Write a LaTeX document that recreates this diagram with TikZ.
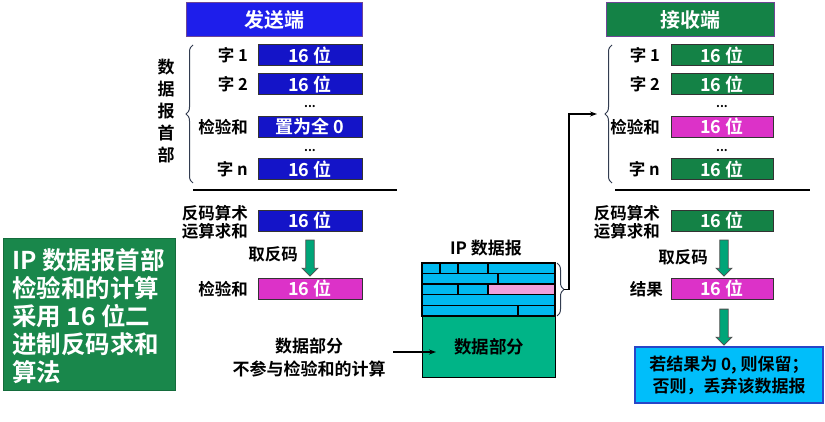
\documentclass[tikz,border=0pt]{standalone}
\usepackage{fontspec}
\setmainfont{Noto Sans CJK SC}[BoldFont={Noto Sans CJK SC Bold}]
\usetikzlibrary{shapes.arrows,decorations.pathreplacing,arrows.meta}
\definecolor{sendblue}{RGB}{20,20,200}
\definecolor{headblue}{RGB}{30,30,235}
\definecolor{headborder}{RGB}{110,70,150}
\definecolor{recvgreen}{RGB}{20,130,70}
\definecolor{pinkbox}{RGB}{220,50,200}
\definecolor{arrowgreen}{RGB}{0,165,120}
\definecolor{leftgreen}{RGB}{25,135,75}
\definecolor{dgcyan}{RGB}{0,185,240}
\definecolor{dgpink}{RGB}{240,160,220}
\definecolor{datagreen}{RGB}{0,180,135}
\definecolor{rescyan}{RGB}{0,190,250}
\definecolor{resborder}{RGB}{40,70,200}
\definecolor{bracecol}{RGB}{50,60,80}
\tikzset{
  x=1pt, y=-1pt,
  every node/.style={font=\bfseries},
  hdr/.style={draw=headborder, line width=1pt, minimum width=176pt, minimum height=34pt, inner sep=0pt, text=white, font=\fontsize{20}{22}\selectfont\bfseries},
  word/.style={draw=black!80, line width=1pt, minimum width=104pt, minimum height=21pt, inner sep=0pt, text=white, font=\fontsize{18}{20}\selectfont\bfseries},
  lbl/.style={anchor=east, inner sep=0pt, font=\fontsize{16.5}{18}\selectfont\bfseries},
  dots/.style={inner sep=0pt, font=\fontsize{12}{12}\selectfont\bfseries},
  blockarrow/.style={single arrow, shape border rotate=270, draw=black!70, line width=0.8pt, fill=arrowgreen, minimum height=36pt, minimum width=15pt, inner sep=3.8pt, single arrow head extend=3.6pt},
  hbrace/.style={decorate, decoration={brace, amplitude=7pt}, draw=bracecol, line width=1pt},
  rule/.style={line width=1.6pt, black},
  cell/.style={draw=black, line width=1.4pt},
}
\begin{document}
\begin{tikzpicture}
\useasboundingbox (0,0) rectangle (825,422);
% ---------- sender ----------
\node[hdr, fill=headblue] (shdr) at (274,20) {发送端};
\node[word, fill=sendblue] (sw1) at (310,55.5) {16 位};
\node[word, fill=sendblue] (sw2) at (310,84.5) {16 位};
\node[word, fill=sendblue] (swc) at (310,127) {置为全 0};
\node[word, fill=sendblue] (swn) at (310,169.5) {16 位};
\node[lbl] (sl1) at (248,55.5) {字 1};
\node[lbl] (sl2) at (248,84.5) {字 2};
\node[lbl] (slc) at (248,127) {检验和};
\node[lbl] (sln) at (248,169.5) {字 n};
\node[dots] (sd1) at (310,107) {...};
\node[dots] (sd2) at (310,151) {...};
\draw[hbrace] (193,183) -- (193,45);
\node[inner sep=0pt, align=center, font=\fontsize{17}{22}\selectfont\bfseries] (svert) at (166,111) {数\\据\\报\\首\\部};
\coordinate (sr1) at (193,190);
\coordinate (sr2) at (397,190);
\draw[rule] (sr1) -- (sr2);
\node[lbl, align=left] (ssum) at (248,222) {反码算术\\运算求和};
\node[word, fill=sendblue] (ssumb) at (310,221) {16 位};
\node[blockarrow] (sarr) at (310,256) {};
\node[lbl] (sinv) at (298,254) {取反码};
\node[word, fill=pinkbox] (sck) at (310,289) {16 位};
\node[lbl] (sckl) at (248,289) {检验和};
% ---------- left note ----------
\node[draw=leftgreen!80!black, fill=leftgreen, minimum width=172pt, minimum height=152pt, inner sep=0pt] (note) at (89,314) {};
\node[anchor=north west, inner sep=0pt, align=left, text=white, font=\fontsize{24.5}{28}\selectfont\bfseries] (notetxt) at (12,248) {IP 数据报首部\\检验和的计算\\采用 16 位二\\进制反码求和\\算法};
% ---------- datagram ----------
\node[font=\fontsize{17}{19}\selectfont\bfseries, inner sep=0pt] (dglbl) at (486,248) {IP 数据报};
\fill[dgcyan] (422,263) rectangle (555,316);
\fill[dgpink] (488,284.2) rectangle (555,294.8);
\draw[cell] (422,273.6) -- (555,273.6);
\draw[cell] (422,284.2) -- (555,284.2);
\draw[cell] (422,294.8) -- (555,294.8);
\draw[cell] (422,305.4) -- (555,305.4);
\draw[cell] (440,263) -- (440,273.6);
\draw[cell] (458,263) -- (458,273.6);
\draw[cell] (488,263) -- (488,273.6);
\draw[cell] (498,273.6) -- (498,284.2);
\draw[cell] (458,284.2) -- (458,294.8);
\draw[cell] (488,284.2) -- (488,294.8);
\draw[cell] (518,305.4) -- (518,316);
\draw[cell] (422,263) rectangle (555,316);
\node[cell, fill=datagreen, minimum width=133pt, minimum height=61pt, inner sep=0pt, anchor=north west, font=\fontsize{17.5}{19}\selectfont\bfseries] (dgdata) at (422,316) {数据部分};
\draw[hbrace] (557,263) -- (557,316);
\coordinate (dgtip) at (564,289.5);
% left arrow into data part
\node[inner sep=0pt, align=center, font=\fontsize{17}{23}\selectfont\bfseries] (dnote) at (309,357) {数据部分\\不参与检验和的计算};
\coordinate (darrs) at (393,352);
\coordinate (darre) at (436,352);
\draw[line width=1.3pt, -{Stealth[length=7pt,width=5pt]}] (darrs) -- (darre);
% ---------- receiver ----------
\node[hdr, fill=recvgreen, minimum width=168pt] (rhdr) at (690,20) {接收端};
\node[word, fill=recvgreen, minimum width=102pt] (rw1) at (722,55.5) {16 位};
\node[word, fill=recvgreen, minimum width=102pt] (rw2) at (722,84.5) {16 位};
\node[word, fill=pinkbox, minimum width=102pt] (rwc) at (722,127) {16 位};
\node[word, fill=recvgreen, minimum width=102pt] (rwn) at (722,169.5) {16 位};
\node[lbl] (rl1) at (660,55.5) {字 1};
\node[lbl] (rl2) at (660,84.5) {字 2};
\node[lbl] (rlc) at (660,127) {检验和};
\node[lbl] (rln) at (660,169.5) {字 n};
\node[dots] (rd1) at (722,107) {...};
\node[dots] (rd2) at (722,151) {...};
\draw[hbrace] (612,183) -- (612,45);
\coordinate (rtip) at (597,114);
\draw[line width=1.6pt, -{Stealth[length=7pt,width=5pt]}] (dgtip) -- (569,289.5) |- (rtip);
\coordinate (rr1) at (615,190);
\coordinate (rr2) at (810,190);
\draw[rule] (rr1) -- (rr2);
\node[lbl, align=left] (rsum) at (660,222) {反码算术\\运算求和};
\node[word, fill=recvgreen, minimum width=102pt] (rsumb) at (722,221) {16 位};
\node[blockarrow] (rarr) at (724,256) {};
\node[lbl] (rinv) at (708,257) {取反码};
\node[word, fill=pinkbox, minimum width=102pt] (rres) at (722,289) {16 位};
\node[lbl] (rresl) at (663,289) {结果};
\node[blockarrow] (rarr2) at (724,325) {};
\node[draw=resborder, line width=1.4pt, fill=rescyan, minimum width=188pt, minimum height=56pt, inner sep=0pt, align=center, font=\fontsize{17}{22}\selectfont\bfseries] (res) at (729,375) {若结果为 0, 则保留；\\否则，丢弃该数据报};
\end{tikzpicture}
\end{document}
